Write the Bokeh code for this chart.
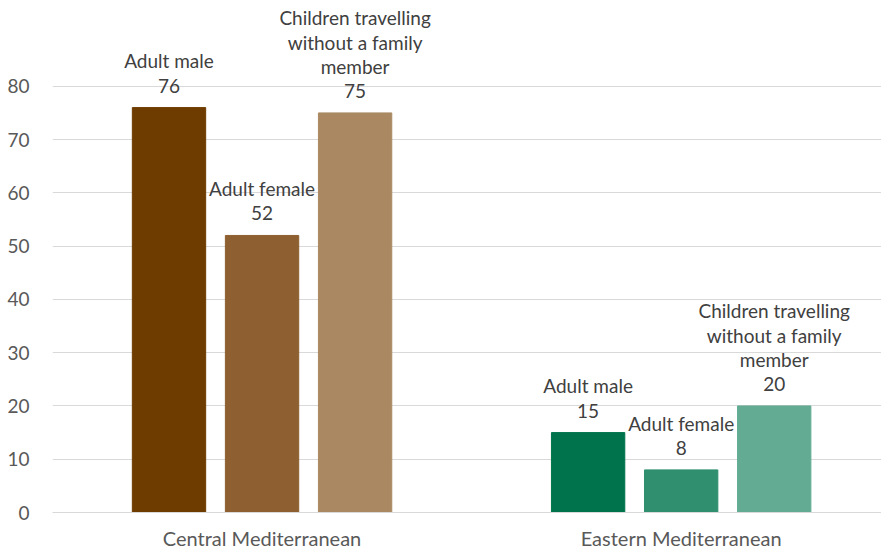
from bokeh.plotting import figure
from bokeh.models import ColumnDataSource, Range1d, FixedTicker
from bokeh.core.properties import value
from bokeh.embed import file_html
from bokeh.resources import INLINE

routes = ["Central Mediterranean", "Eastern Mediterranean"]
groups = ["Adult male", "Adult female", "Children travelling\nwithout a family\nmember"]
central_values = [76, 52, 75]
eastern_values = [15, 8, 20]
central_colors = ["#6F3C00", "#8E5F30", "#AA8962"]
eastern_colors = ["#00734C", "#2F8F6E", "#63AC93"]
y_ticks = [0, 10, 20, 30, 40, 50, 60, 70, 80]

FONT = "Lato"
offsets = [-0.222, 0.0, 0.222]
bar_w = 0.175

xs, tops, colors, labels = [], [], [], []
for ci, (vals, cols) in enumerate([(central_values, central_colors), (eastern_values, eastern_colors)]):
    for gi in range(3):
        xs.append(ci + 0.5 + offsets[gi])
        tops.append(vals[gi])
        colors.append(cols[gi])
        labels.append(f"{groups[gi]}\n{vals[gi]}")

src = ColumnDataSource(dict(x=xs, top=tops, color=colors, label=labels))

p = figure(width=881, height=552, output_backend="svg", toolbar_location=None,
           x_range=Range1d(0, 1.978), y_range=Range1d(0, 96.1),
           min_border_left=52, min_border_right=0, min_border_top=0, min_border_bottom=30)
p.outline_line_color = None
p.background_fill_color = "white"
p.border_fill_color = "white"

p.vbar(x="x", top="top", width=bar_w, color="color", source=src)
p.text(x="x", y="top", text="label", source=src, text_align="center", text_baseline="bottom",
       y_offset=-11, text_font=value(FONT), text_font_size="19px", text_color="#404040",
       text_line_height=1.05)

p.xaxis.ticker = FixedTicker(ticks=[0.5, 1.5])
p.xaxis.major_label_overrides = {0.5: routes[0], 1.5: routes[1]}
p.xaxis.major_tick_line_color = None
p.xaxis.minor_tick_line_color = None
p.xaxis.axis_line_color = "#D9D9D9"
p.xaxis.major_label_text_font = FONT
p.xaxis.major_label_text_font_size = "20px"
p.xaxis.major_label_text_color = "#595959"
p.xaxis.major_label_standoff = 7

p.yaxis.ticker = FixedTicker(ticks=y_ticks)
p.yaxis.axis_line_color = None
p.yaxis.major_tick_line_color = None
p.yaxis.minor_tick_line_color = None
p.yaxis.major_label_text_font = FONT
p.yaxis.major_label_text_font_size = "19px"
p.yaxis.major_label_text_color = "#595959"
p.yaxis.major_label_standoff = 17

p.xgrid.grid_line_color = None
p.ygrid.grid_line_color = "#D9D9D9"
p.ygrid.grid_line_width = 1

open("out.html", "w").write(file_html(p, INLINE))
